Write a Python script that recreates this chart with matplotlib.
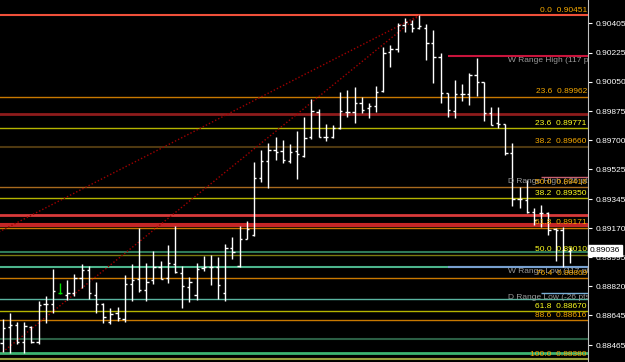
import numpy as np
import matplotlib
matplotlib.use('Agg')
import matplotlib.pyplot as plt
from matplotlib import transforms

plt.rcParams['font.family'] = ['Liberation Sans', 'DejaVu Sans']

# OHLC bars, oldest first
highs = [0.88620, 0.88656, 0.88606, 0.88602, 0.88580, 0.88732, 0.88762, 0.88923, 0.88837, 0.88857,
         0.88893, 0.88952, 0.88941, 0.88843, 0.88717, 0.88686, 0.88696, 0.88887, 0.88953, 0.89169,
         0.88958, 0.89032, 0.88972, 0.89068, 0.89182, 0.88941, 0.88877, 0.88958, 0.89002, 0.89008,
         0.88996, 0.89074, 0.89114, 0.89184, 0.89213, 0.89566, 0.89640, 0.89681, 0.89720, 0.89701,
         0.89675, 0.89755, 0.89837, 0.89946, 0.89885, 0.89797, 0.89791, 0.89988, 0.90002, 0.90022,
         0.89958, 0.89922, 0.90026, 0.90259, 0.90273, 0.90404, 0.90434, 0.90424, 0.90451, 0.90398,
         0.90363, 0.90226, 0.89986, 0.90062, 0.90038, 0.90102, 0.90193, 0.90052, 0.89898, 0.89898,
         0.89797, 0.89684, 0.89416, 0.89460, 0.89289, 0.89309, 0.89269, 0.89169, 0.89178, 0.89058]
lows = [0.88423, 0.88419, 0.88471, 0.88415, 0.88479, 0.88470, 0.88596, 0.88660, 0.88773, 0.88737,
        0.88761, 0.88811, 0.88741, 0.88660, 0.88600, 0.88592, 0.88612, 0.88606, 0.88732, 0.88787,
        0.88732, 0.88831, 0.88861, 0.88837, 0.88897, 0.88686, 0.88723, 0.88737, 0.88913, 0.88827,
        0.88743, 0.88732, 0.88984, 0.88937, 0.89102, 0.89124, 0.89449, 0.89410, 0.89580, 0.89564,
        0.89560, 0.89464, 0.89596, 0.89705, 0.89717, 0.89696, 0.89714, 0.89765, 0.89841, 0.89805,
        0.89861, 0.89831, 0.89871, 0.89992, 0.90139, 0.90229, 0.90353, 0.90353, 0.90368, 0.90183,
        0.90042, 0.89922, 0.89841, 0.89831, 0.89937, 0.89911, 0.89967, 0.89817, 0.89791, 0.89771,
        0.89610, 0.89303, 0.89289, 0.89259, 0.89188, 0.89178, 0.89128, 0.88973, 0.88937, 0.88958]
opens = [0.88476, 0.88576, 0.88586, 0.88482, 0.88576, 0.88482, 0.88711, 0.88711, 0.88780, 0.88767,
         0.88777, 0.88871, 0.88917, 0.88767, 0.88711, 0.88606, 0.88656, 0.88622, 0.88831, 0.88861,
         0.88797, 0.88857, 0.88937, 0.88867, 0.88952, 0.88901, 0.88817, 0.88767, 0.88928, 0.88937,
         0.88935, 0.88779, 0.89048, 0.88943, 0.89106, 0.89128, 0.89473, 0.89574, 0.89640, 0.89636,
         0.89576, 0.89636, 0.89606, 0.89717, 0.89871, 0.89720, 0.89717, 0.89771, 0.89871, 0.89871,
         0.89922, 0.89892, 0.89907, 0.89998, 0.90229, 0.90249, 0.90393, 0.90398, 0.90374, 0.90374,
         0.90287, 0.90202, 0.89982, 0.89877, 0.89976, 0.89976, 0.90092, 0.90052, 0.89861, 0.89801,
         0.89797, 0.89620, 0.89345, 0.89339, 0.89269, 0.89259, 0.89259, 0.89162, 0.89158, 0.89034]
closes = [0.88570, 0.88586, 0.88483, 0.88580, 0.88485, 0.88705, 0.88711, 0.88791, 0.88780, 0.88777,
          0.88867, 0.88917, 0.88777, 0.88711, 0.88632, 0.88652, 0.88626, 0.88831, 0.88857, 0.88797,
          0.88843, 0.88934, 0.88863, 0.88958, 0.88903, 0.88821, 0.88843, 0.88923, 0.88937, 0.88934,
          0.88827, 0.89048, 0.89023, 0.89106, 0.89166, 0.89473, 0.89574, 0.89640, 0.89626, 0.89580,
          0.89630, 0.89614, 0.89711, 0.89875, 0.89720, 0.89720, 0.89771, 0.89877, 0.89871, 0.89922,
          0.89881, 0.89907, 0.89992, 0.90223, 0.90249, 0.90393, 0.90410, 0.90374, 0.90389, 0.90287,
          0.90202, 0.89986, 0.89881, 0.89976, 0.89976, 0.90092, 0.90052, 0.89861, 0.89791, 0.89797,
          0.89620, 0.89345, 0.89345, 0.89269, 0.89219, 0.89259, 0.89158, 0.89158, 0.89038, 0.89036]
signal_bar = 8
current_price = 0.89036

# horizontal levels drawn across the whole chart
level_prices = [0.90451, 0.89962, 0.89857, 0.89771, 0.89660, 0.89416, 0.89350, 0.89249, 0.89197,
                0.89182, 0.89171, 0.89023, 0.89010, 0.88935, 0.88869, 0.88743, 0.88670, 0.88616,
                0.88502, 0.88417, 0.88380]
level_colors = ['#f0503a', '#c87800', '#8e1c1c', '#b4b400', '#4e3810', '#a86a1e', '#b4b400', '#d83a3a',
                '#c42626', '#c42626', '#c87800', '#2e7a58', '#7a7a10', '#4cb48c', '#c87800', '#5ab4a0',
                '#b4b400', '#c87800', '#2b5e44', '#3cb371', '#96a03c']
level_widths = [1.5, 1, 2, 1, 1.5, 1, 1, 2, 1.5, 1.5, 1, 1.5, 1, 1.5, 1, 1, 1, 1, 1.5, 2, 1.5]

# fibonacci labels
fib_levels = ['0.0', '23.6', '23.6', '38.2', '50.0', '38.2', '61.8', '50.0', '76.4', '61.8', '88.6', '100.0']
fib_prices = [0.90451, 0.89962, 0.89771, 0.89660, 0.89416, 0.89350, 0.89171, 0.89010, 0.88869,
              0.88670, 0.88616, 0.88380]
fib_colors = ['#f5a800', '#f5a800', '#ffff20', '#f5a800', '#f5a800', '#ffff20', '#f5a800', '#ffff20',
              '#f5a800', '#ffff20', '#f5a800', '#f5a800']

# weekly / daily range lines
range_names = ['W Range High (117 pts)', 'D Range High (-26 pts)', 'W Range Low (117 pts)',
               'D Range Low (-26 pts)']
range_prices = [0.90206, 0.89476, 0.88935, 0.88779]
range_start = [62, 75, 62, 75]
range_colors = ['#c8143c', '#c86070', '#78a0d0', '#78b0d8']

# dotted trend lines (bar index, price)
trend_x = [[-1, 58], [0, 58]]
trend_y = [[0.89136, 0.90451], [0.88423, 0.90451]]

yticks = [0.90405, 0.90225, 0.90050, 0.89875, 0.89700, 0.89525, 0.89345, 0.89170, 0.88995,
          0.88820, 0.88645, 0.88465]

fig = plt.figure(figsize=(6.25, 3.62), dpi=100, facecolor='black')
ax = fig.add_axes([0, 0, 588 / 625, 1])
ax.set_facecolor('black')

idx = np.arange(len(highs))
for p, c, w in zip(level_prices, level_colors, level_widths):
    ax.axhline(p, color=c, lw=w, zorder=1)

for name, p, s, c in zip(range_names, range_prices, range_start, range_colors):
    ax.hlines(p, s, 90, color=c, lw=1.5 if s == 62 else 1, zorder=2)

for tx, ty in zip(trend_x, trend_y):
    ax.plot(tx, ty, color='#a00000', lw=1, ls=(0, (1, 1.5)), zorder=2)

colors = ['#00e000' if i == signal_bar else 'white' for i in idx]
ax.vlines(idx, lows, highs, colors=colors, lw=1, zorder=4)
ax.hlines(opens, idx - 0.32, idx, colors=colors, lw=1, zorder=4)
ax.hlines(closes, idx, idx + 0.32, colors=colors, lw=1, zorder=4)

ax.set_xlim(-0.376, 81.52)
ax.set_ylim(0.88363, 0.90544)

blend = transforms.blended_transform_factory(ax.transAxes, ax.transData)
above = transforms.offset_copy(blend, fig=fig, y=3.6, units='points')
below = transforms.offset_copy(blend, fig=fig, y=-3.3, units='points')

for name, p in zip(range_names, range_prices):
    ax.text(0.864, p, name, transform=below, color='#9a9a9a', fontsize=6, va='center', ha='left',
            clip_on=True, zorder=5)

for lvl, p, c in zip(fib_levels, fib_prices, fib_colors):
    ax.text(0.998, p, f'{lvl}  {p:.5f}', transform=above, color=c, fontsize=6, va='center',
            ha='right', zorder=6)

for s in ['top', 'bottom', 'left']:
    ax.spines[s].set_visible(False)
ax.spines['right'].set_color('#c0c0c0')
ax.set_xticks([])
ax.yaxis.tick_right()
ax.set_yticks(yticks)
ax.set_yticklabels([f'{t:.5f}' for t in yticks])
ax.tick_params(axis='y', colors='white', labelsize=6, length=3, width=0.8, pad=2.5)

ax.text(1.003, current_price, f'{current_price:.5f}', transform=blend, color='black', fontsize=6,
        va='center', ha='left', clip_on=False, zorder=10,
        bbox=dict(facecolor='white', edgecolor='white', boxstyle='square,pad=0.25'))

fig.savefig('out.png', dpi=100, facecolor='black')
